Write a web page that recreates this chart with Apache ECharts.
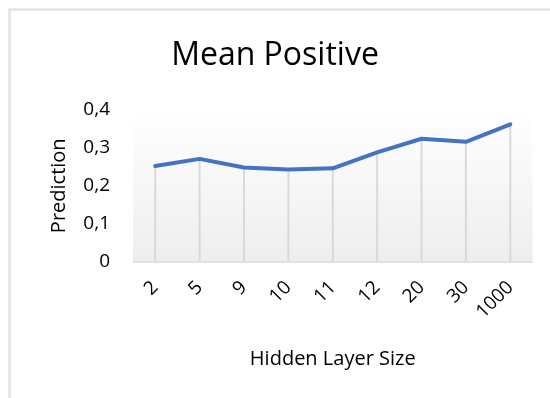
<!DOCTYPE html>
<html>
<head>
<meta charset="utf-8">
<style>
  html, body { margin: 0; padding: 0; background: #ffffff; }
  #chart { width: 550px; height: 398px; }
</style>
<script src="https://cdn.jsdelivr.net/npm/echarts@6/dist/echarts.min.js"></script>
</head>
<body>
<div id="chart"></div>
<script>
// Hidden layer sizes on the category axis
const categories = ['2', '5', '9', '10', '11', '12', '20', '30', '1000'];
// Mean positive prediction for each hidden layer size
const meanPositive = [0.252, 0.271, 0.248, 0.243, 0.246, 0.288, 0.324, 0.316, 0.362];
// Y-axis range and step
const yMin = 0, yMax = 0.4, yStep = 0.1;

const FONT = '"Open Sans", Lato, "Liberation Sans", sans-serif';

const chart = echarts.init(document.getElementById('chart'), null, { renderer: 'canvas' });

chart.setOption({
  backgroundColor: '#ffffff',
  animation: false,
  graphic: [{
    type: 'rect',
    silent: true,
    z: -10,
    shape: { x: 9.5, y: 9.5, width: 600, height: 450 },
    style: { fill: 'none', stroke: '#e4e4e4', lineWidth: 2.5 }
  }],
  title: {
    text: 'Mean Positive',
    left: 270,
    top: 35,
    textAlign: 'center',
    textStyle: { fontFamily: FONT, fontSize: 32, fontWeight: 'normal', color: '#000000' }
  },
  grid: {
    left: 133,
    right: 17.5,
    top: 110,
    bottom: 136.5,
    show: true,
    borderWidth: 0,
    backgroundColor: new echarts.graphic.LinearGradient(0, 0, 0, 1, [
      { offset: 0, color: '#ffffff' },
      { offset: 1, color: '#eeeeee' }
    ])
  },
  xAxis: {
    type: 'category',
    data: categories,
    boundaryGap: true,
    name: 'Hidden Layer Size',
    nameLocation: 'middle',
    nameGap: 88,
    nameTextStyle: { fontFamily: FONT, fontSize: 20, color: '#000000' },
    axisLine: { lineStyle: { color: '#d9d9d9', width: 1.5 } },
    axisTick: { show: false },
    axisLabel: {
      rotate: 45,
      margin: 23,
      interval: 0,
      fontFamily: FONT,
      fontSize: 19,
      color: '#000000'
    },
    splitLine: { show: false }
  },
  yAxis: {
    type: 'value',
    min: yMin,
    max: yMax,
    interval: yStep,
    name: 'Prediction',
    nameLocation: 'middle',
    nameGap: 64,
    nameRotate: 90,
    nameTextStyle: { fontFamily: FONT, fontSize: 20, color: '#000000' },
    axisLine: { show: false },
    axisTick: { show: false },
    splitLine: { show: false },
    axisLabel: {
      margin: 23,
      fontFamily: FONT,
      fontSize: 19,
      color: '#000000',
      formatter: v => (Math.round(v * 10) / 10).toString().replace('.', ',')
    }
  },
  series: [
    {
      // drop lines from each point down to the axis
      type: 'bar',
      data: meanPositive,
      barWidth: 2,
      silent: true,
      itemStyle: { color: '#d9d9d9' },
      z: 1
    },
    {
      type: 'line',
      data: meanPositive,
      symbol: 'none',
      lineStyle: { color: '#4472c4', width: 4, cap: 'round', join: 'round' },
      z: 3
    }
  ]
});
</script>
</body>
</html>
